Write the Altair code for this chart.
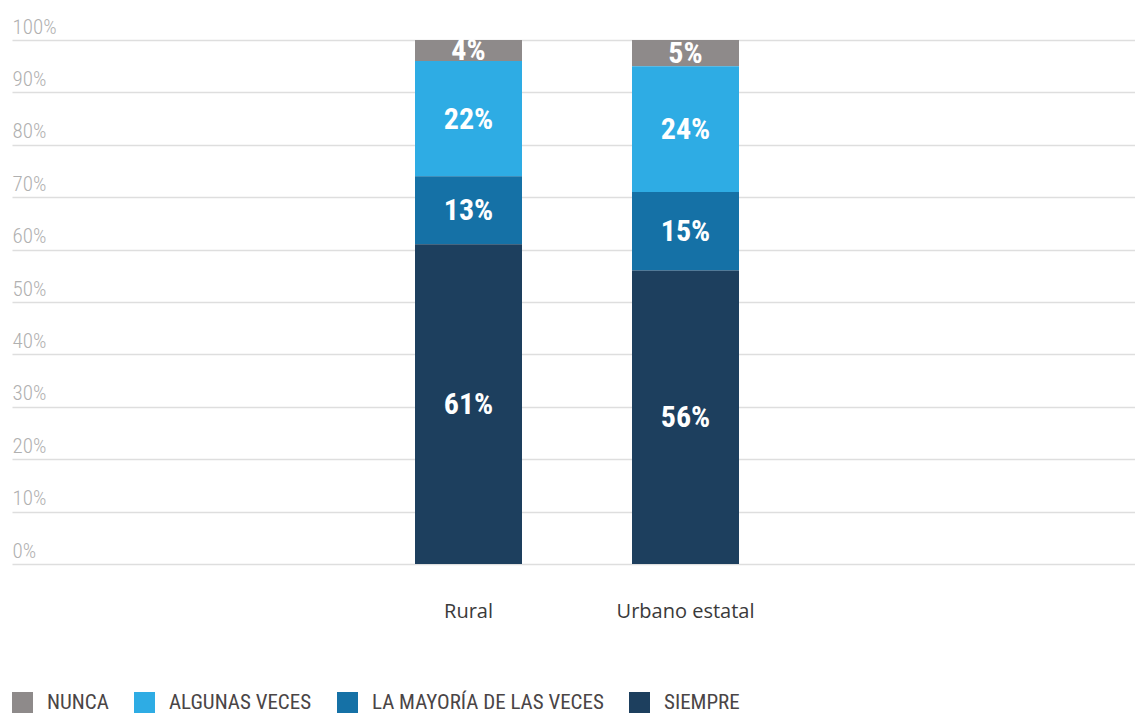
import altair as alt
import pandas as pd

categories = ["Rural", "Urbano estatal"]
responses = ["NUNCA", "ALGUNAS VECES", "LA MAYORÍA DE LAS VECES", "SIEMPRE"]
stack_rank = [4, 3, 2, 1]  # SIEMPRE at the bottom
rural = [4, 22, 13, 61]
urbano = [5, 24, 15, 56]
colors = ["#8e8a8a", "#2eace4", "#1571a6", "#1d3f5e"]

y_ticks = [0, 10, 20, 30, 40, 50, 60, 70, 80, 90, 100]

# empty slots on either side of the two bars (layout only, no data)
x_domain = ["_izq"] + categories + ["_der"]

rows = []
for cat, vals in zip(categories, [rural, urbano]):
    for resp, rank, v in zip(responses, stack_rank, vals):
        rows.append({"cat": cat, "resp": resp, "rank": rank, "value": v})
df = pd.DataFrame(rows)

COND = "Roboto Condensed, DejaVu Sans Condensed, sans-serif"
COND_B = "Roboto Condensed, Open Sans Condensed, sans-serif"

x_scale = alt.Scale(domain=x_domain, paddingInner=0.507, paddingOuter=0.841, align=0.5096)

x_enc = alt.X(
    "cat:N",
    scale=x_scale,
    axis=alt.Axis(
        title=None, labelAngle=0, ticks=False, domain=False, grid=False,
        labelExpr="indexof(datum.label, '_') == 0 ? '' : datum.label",
        labelFont="Open Sans", labelFontSize=20, labelColor="#3a3a3a", labelPadding=37,
    ),
)

bars = alt.Chart(df).mark_bar(size=107).encode(
    x=x_enc,
    y=alt.Y(
        "value:Q",
        stack="zero",
        scale=alt.Scale(domain=[0, 100], nice=False),
        axis=alt.Axis(
            title=None, values=y_ticks, format="d", labelExpr="datum.value + '%'",
            ticks=False, tickSize=0, domain=False, grid=True,
            gridColor="#dedede", gridWidth=1.6,
            labelAlign="left", labelBaseline="alphabetic", labelPadding=0, labelOffset=-7,
            labelFont=COND, labelFontSize=21, labelFontWeight=300, labelColor="#b0b0b0",
        ),
    ),
    color=alt.Color(
        "resp:N",
        scale=alt.Scale(domain=responses, range=colors),
        legend=alt.Legend(
            title=None, orient="none", legendX=0, legendY=652, direction="horizontal",
            columns=4, symbolType="square", symbolSize=441, symbolStrokeWidth=0,
            labelFont=COND, labelFontSize=21, labelColor="#4a4546", labelOffset=14,
            columnPadding=25, labelLimit=400,
        ),
    ),
    order=alt.Order("rank:Q", sort="ascending"),
)

labels = alt.Chart(df).transform_window(
    cum="sum(value)", groupby=["cat"], sort=[alt.SortField("rank", order="ascending")],
    frame=[None, 0],
).transform_calculate(
    mid="datum.cum - datum.value / 2",
    lbl="datum.value + '%'",
).mark_text(
    color="white", font=COND_B, fontWeight="bold", fontSize=30, baseline="middle", align="center",
    dy=1,
).encode(
    x=alt.X("cat:N", scale=x_scale),
    y=alt.Y("mid:Q"),
    text="lbl:N",
)

chart = alt.layer(bars, labels).properties(
    width=1123,
    height=524,
    padding={"left": 12, "top": 40, "right": 0, "bottom": 152},
    autosize=alt.AutoSizeParams(type="none"),
    background="white",
).configure_view(strokeWidth=0)

chart.save("out.html", embed_options={"renderer": "svg", "actions": False})
